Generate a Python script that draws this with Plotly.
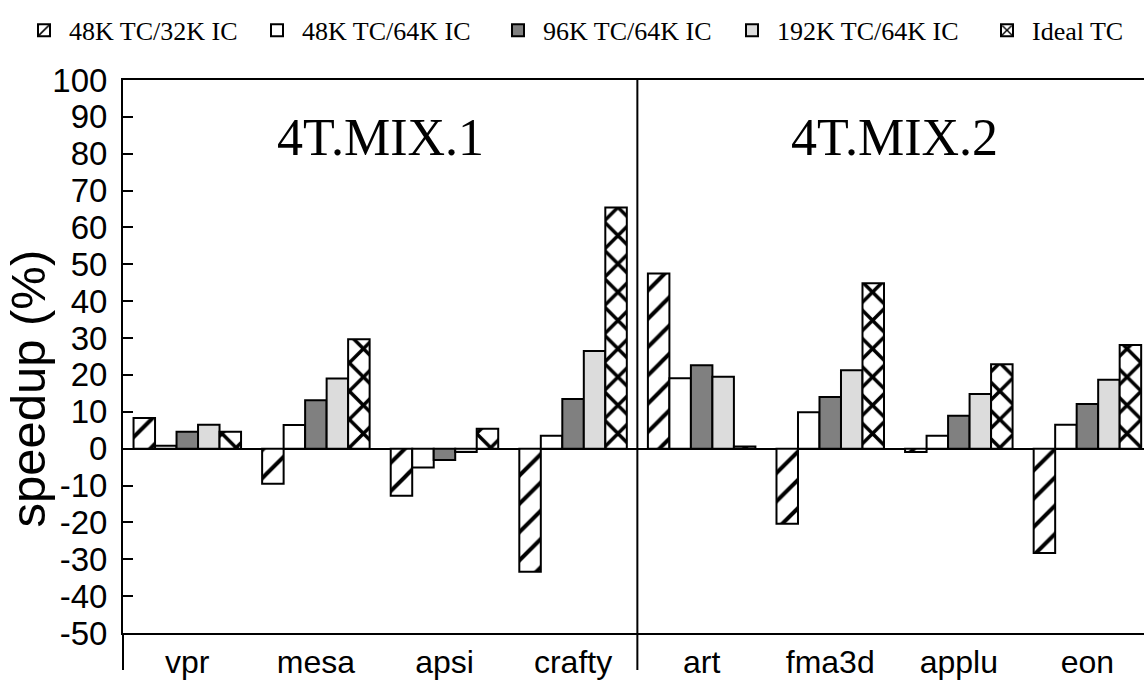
import plotly.graph_objects as go

categories = ["vpr", "mesa", "apsi", "crafty", "art", "fma3d", "applu", "eon"]
series_names = ["48K TC/32K IC", "48K TC/64K IC", "96K TC/64K IC", "192K TC/64K IC", "Ideal TC"]
tc48_ic32 = [8.3, -9.5, -12.8, -33.4, 47.5, -20.4, -0.9, -28.3]
tc48_ic64 = [0.8, 6.4, -5.1, 3.5, 19.1, 9.9, 3.5, 6.5]
tc96_ic64 = [4.6, 13.1, -3.1, 13.5, 22.6, 14.0, 8.9, 12.1]
tc192_ic64 = [6.5, 19.0, -0.9, 26.5, 19.5, 21.3, 14.8, 18.7]
ideal_tc = [4.6, 29.7, 5.4, 65.4, 0.6, 44.9, 22.9, 28.1]
group_labels = ["4T.MIX.1", "4T.MIX.2"]
y_title = "speedup (%)"
y_ticks = list(range(-50, 101, 10))
y_tick_labels = [str(v) for v in y_ticks]

series_values = [tc48_ic32, tc48_ic64, tc96_ic64, tc192_ic64, ideal_tc]
fills = ["white", "white", "#808080", "#dcdcdc", "white"]
patterns = [
    dict(shape="/", fgcolor="black", bgcolor="white", size=20, solidity=0.2, fillmode="replace"),
    None,
    None,
    None,
    dict(shape="x", fgcolor="black", bgcolor="white", size=20, solidity=0.32, fillmode="replace"),
]
legend_ids = ["legend", "legend2", "legend3", "legend4", "legend5"]
legend_x_px = [19, 252, 493, 727, 982]

x_idx = list(range(len(categories)))
fig = go.Figure()
for name, vals, col, pat, lid in zip(series_names, series_values, fills, patterns, legend_ids):
    marker = dict(color=col, line=dict(color="black", width=2))
    if pat is not None:
        marker["pattern"] = pat
    fig.add_trace(go.Bar(name=name, x=x_idx, y=vals, marker=marker, legend=lid))

W, H = 1144, 686
fig.update_layout(
    width=W, height=H,
    barmode="group", bargap=0.164, bargroupgap=0,
    plot_bgcolor="white", paper_bgcolor="white",
    margin=dict(l=123, r=0, t=80, b=53, autoexpand=False),
    font=dict(family="Liberation Sans, Arial", color="black"),
    showlegend=True,
)
for lid, lx in zip(legend_ids, legend_x_px):
    fig.update_layout({lid: dict(
        orientation="h", xref="container", x=lx / W, xanchor="left",
        yref="container", y=0.99, yanchor="top",
        font=dict(family="Liberation Serif, Times New Roman", size=26),
        itemwidth=40, bgcolor="rgba(0,0,0,0)")})

fig.update_xaxes(
    range=[-0.5, 7.44], tickmode="array", tickvals=x_idx, ticktext=categories,
    showline=True, linecolor="black", linewidth=2, mirror=True,
    ticks="", showgrid=False, zeroline=False,
    tickfont=dict(size=32, family="Liberation Sans, Arial"),
)
fig.update_yaxes(
    range=[-50, 100], tickmode="array", tickvals=y_ticks, ticktext=y_tick_labels,
    showline=True, linecolor="black", linewidth=2,
    ticks="inside", ticklen=10, tickwidth=2, tickcolor="black",
    ticklabelstandoff=7,
    showgrid=False, zeroline=True, zerolinecolor="black", zerolinewidth=2,
    tickfont=dict(size=33, family="Liberation Sans, Arial"),
)
fig.add_annotation(x=-0.093, xref="paper", y=16.3, yref="y", text=y_title, textangle=-90,
                   showarrow=False, xanchor="center", yanchor="middle",
                   font=dict(size=49, family="Liberation Sans, Arial"))
# left axis extension and group divider
fig.add_shape(type="line", xref="paper", yref="paper", x0=0, x1=0, y0=0, y1=-0.067,
              line=dict(color="black", width=2))
fig.add_shape(type="line", xref="x", yref="paper", x0=3.5, x1=3.5, y0=1, y1=-0.067,
              line=dict(color="black", width=2))
fig.add_annotation(x=1.5, y=84.5, xref="x", yref="y", text=group_labels[0], showarrow=False,
                   font=dict(family="Liberation Serif, Times New Roman", size=52))
fig.add_annotation(x=5.5, y=84.5, xref="x", yref="y", text=group_labels[1], showarrow=False,
                   font=dict(family="Liberation Serif, Times New Roman", size=52))
fig.write_html("out.html")
